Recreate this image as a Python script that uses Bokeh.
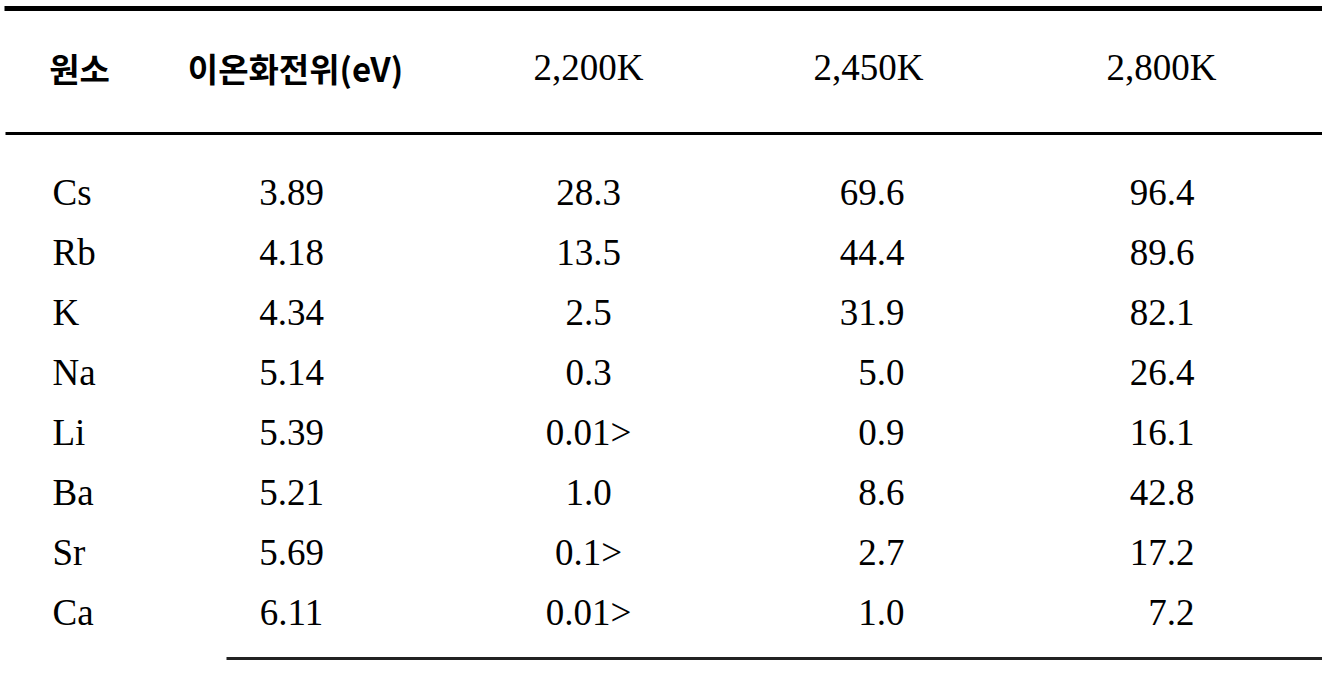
from bokeh.plotting import figure
from bokeh.models import Range1d, ColumnDataSource
from bokeh.core.properties import value
from bokeh.embed import file_html
from bokeh.resources import INLINE

# ---- data ----
headers = ["원소", "이온화전위(eV)", "2,200K", "2,450K", "2,800K"]
elements = ["Cs", "Rb", "K", "Na", "Li", "Ba", "Sr", "Ca"]
ionization = ["3.89", "4.18", "4.34", "5.14", "5.39", "5.21", "5.69", "6.11"]
t2200 = ["28.3", "13.5", "2.5", "0.3", "0.01>", "1.0", "0.1>", "0.01>"]
t2450 = ["69.6", "44.4", "31.9", "5.0", "0.9", "8.6", "2.7", "1.0"]
t2800 = ["96.4", "89.6", "82.1", "26.4", "16.1", "42.8", "17.2", "7.2"]

# ---- layout (reference pixel space; page margin 8px) ----
PW, PH = 1322, 660
M = 8
header_y = 75
row0, row_step = 200, 60
header_x = [87, 303, 596, 876, 1169]
col_x = [60, 299, 596, 912, 1202]
col_align = ["left", "center", "center", "right", "right"]

p = figure(width=PW, height=PH, output_backend="svg", toolbar_location=None,
           x_range=Range1d(M, M + PW), y_range=Range1d(M + PH, M), min_border=0)
p.axis.visible = False
p.grid.visible = False
p.outline_line_color = None
p.background_fill_color = "white"
p.border_fill_color = "white"

serif = value("Liberation Serif")
cjk = value("Noto Sans CJK KR")

# rules
p.segment(x0=[12], y0=[16], x1=[M + PW], y1=[16], line_color="black", line_width=5)
p.segment(x0=[13], y0=[141], x1=[M + PW], y1=[141], line_color="black", line_width=3)
p.segment(x0=[234], y0=[666], x1=[M + PW], y1=[666], line_color="#222222", line_width=3)

# headers
for i, h in enumerate(headers):
    p.text(x=[header_x[i]], y=[header_y], text=[h], text_align="center",
           text_baseline="middle", text_font=cjk if i < 2 else serif,
           text_font_size="33px" if i < 2 else "37px", text_color="black",
           text_font_style="bold" if i < 2 else "normal")

# body
cols = [elements, ionization, t2200, t2450, t2800]
ys = [row0 + r * row_step for r in range(len(elements))]
for c, vals in enumerate(cols):
    src = ColumnDataSource(dict(x=[col_x[c]] * len(vals), y=ys, t=vals))
    p.text(x="x", y="y", text="t", source=src, text_align=col_align[c],
           text_baseline="middle", text_font=serif, text_font_size="37px",
           text_color="black")

open("out.html", "w").write(file_html(p, INLINE))
